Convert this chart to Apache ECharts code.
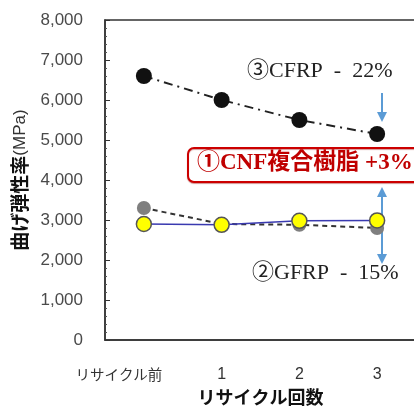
<!DOCTYPE html>
<html>
<head>
<meta charset="utf-8">
<script src="https://cdn.jsdelivr.net/npm/echarts@6/dist/echarts.min.js"></script>
<style>
  html, body { margin: 0; padding: 0; background: #fff; }
  #chart { width: 414px; height: 407px; }
</style>
</head>
<body>
<div id="chart"></div>
<script>
// Flexural modulus after repeated recycling
const categories = ['リサイクル前', '1', '2', '3'];
const cfrpValues = [6600, 6000, 5500, 5150];
const gfrpValues = [3300, 2900, 2880, 2800];
const cnfValues = [2900, 2880, 2980, 2990];
const yMin = 0, yMax = 8000, yStep = 1000;

const cfrpLabel = '③CFRP  -  22%';
const gfrpLabel = '②GFRP  -  15%';
const cnfLabel = '①CNF複合樹脂 +3%';

const chart = echarts.init(document.getElementById('chart'));
const arrowBlue = '#5b9bd5';
const serif = '"Liberation Serif", "Noto Sans CJK JP", serif';
const jp = '"Noto Sans CJK JP", sans-serif';

function arrowHead(x, tipY, dir) {
  const h = 10, w = 5;
  return {
    type: 'polygon',
    shape: { points: [[x - w, tipY - dir * h], [x + w, tipY - dir * h], [x, tipY]] },
    style: { fill: arrowBlue },
    z: 1
  };
}

chart.setOption({
  animation: false,
  grid: {
    left: 105, right: -2, top: 20, bottom: 67,
    outerBoundsMode: 'none', containLabel: false,
    show: true, borderColor: '#333', borderWidth: 1.5
  },
  xAxis: {
    type: 'category',
    data: categories,
    boundaryGap: true,
    axisLine: { lineStyle: { color: '#333', width: 1.5 } },
    axisTick: { show: false },
    axisLabel: {
      interval: 0,
      margin: 27,
      color: '#333',
      fontSize: 16,
      fontFamily: '"Liberation Sans", Arial, sans-serif',
      formatter: function (v, i) { return i === 0 ? '{f|' + v + '}' : v; },
      rich: { f: { fontSize: 14.5, padding: [0, 50, 0, 0], color: '#333', fontFamily: jp } }
    },
    name: 'リサイクル回数',
    nameLocation: 'middle',
    nameGap: 48,
    nameTextStyle: { fontSize: 18, fontWeight: 'bold', color: '#111', fontFamily: jp }
  },
  yAxis: {
    type: 'value',
    min: yMin, max: yMax, interval: yStep,
    axisLine: { show: true, lineStyle: { color: '#333', width: 1.5 } },
    axisTick: { show: true, inside: true, length: 5, lineStyle: { color: '#333' } },
    minorTick: { show: true, splitNumber: 5, length: 2, lineStyle: { color: '#555' } },
    splitLine: { show: false },
    axisLabel: { margin: 22, color: '#4a4a4a', fontSize: 17, fontFamily: '"Liberation Sans", Arial, sans-serif' },
    name: '{b|曲げ弾性率}{n|(MPa)}',
    nameLocation: 'middle',
    nameGap: 72,
    nameTextStyle: {
      rich: {
        b: { fontSize: 19, fontWeight: 'bold', color: '#111', fontFamily: jp },
        n: { fontSize: 17, color: '#333', fontFamily: '"Liberation Sans", sans-serif' }
      }
    }
  },
  series: [
    {
      name: 'CFRP', type: 'line', data: cfrpValues,
      symbol: 'circle', symbolSize: 16, z: 3,
      itemStyle: { color: '#111' },
      lineStyle: { color: '#222', width: 2, type: [9, 5, 2, 5] }
    },
    {
      name: 'GFRP', type: 'line', data: gfrpValues,
      symbol: 'circle', symbolSize: 14, z: 4,
      itemStyle: { color: '#7f7f7f' },
      lineStyle: { color: '#333', width: 2, type: [5, 4] }
    },
    {
      name: 'CNF', type: 'line', data: cnfValues,
      symbol: 'circle', symbolSize: 15, z: 5,
      itemStyle: { color: '#ffff00', borderColor: '#555', borderWidth: 1.5 },
      lineStyle: { color: '#3a3ab0', width: 1.5 }
    }
  ],
  graphic: [
    { type: 'text', left: 247, top: 60, z: 10,
      style: { text: cfrpLabel, font: '22px ' + serif, fill: '#222' } },
    { type: 'text', left: 252, top: 262, z: 10,
      style: { text: gfrpLabel, font: '22px ' + serif, fill: '#222' } },
    { type: 'rect', z: 10,
      shape: { x: 188, y: 148, width: 240, height: 34, r: 6 },
      style: { fill: '#fff', stroke: '#cc0000', lineWidth: 2, shadowColor: 'rgba(150,0,0,0.4)', shadowOffsetY: 1, shadowBlur: 1 } },
    { type: 'text', left: 197, top: 152, z: 11,
      style: { text: cnfLabel, font: 'bold 23px ' + serif, fill: '#c00000' } },
    // arrow above CFRP end point
    { type: 'line', z: 1, shape: { x1: 382, y1: 93, x2: 382, y2: 113 }, style: { stroke: arrowBlue, lineWidth: 2 } },
    arrowHead(382, 122, 1),
    // double arrow through the CNF / GFRP end points
    { type: 'line', z: 1, shape: { x1: 382, y1: 196, x2: 382, y2: 255 }, style: { stroke: arrowBlue, lineWidth: 2 } },
    arrowHead(382, 187, -1),
    arrowHead(382, 264, 1)
  ]
});
</script>
</body>
</html>
